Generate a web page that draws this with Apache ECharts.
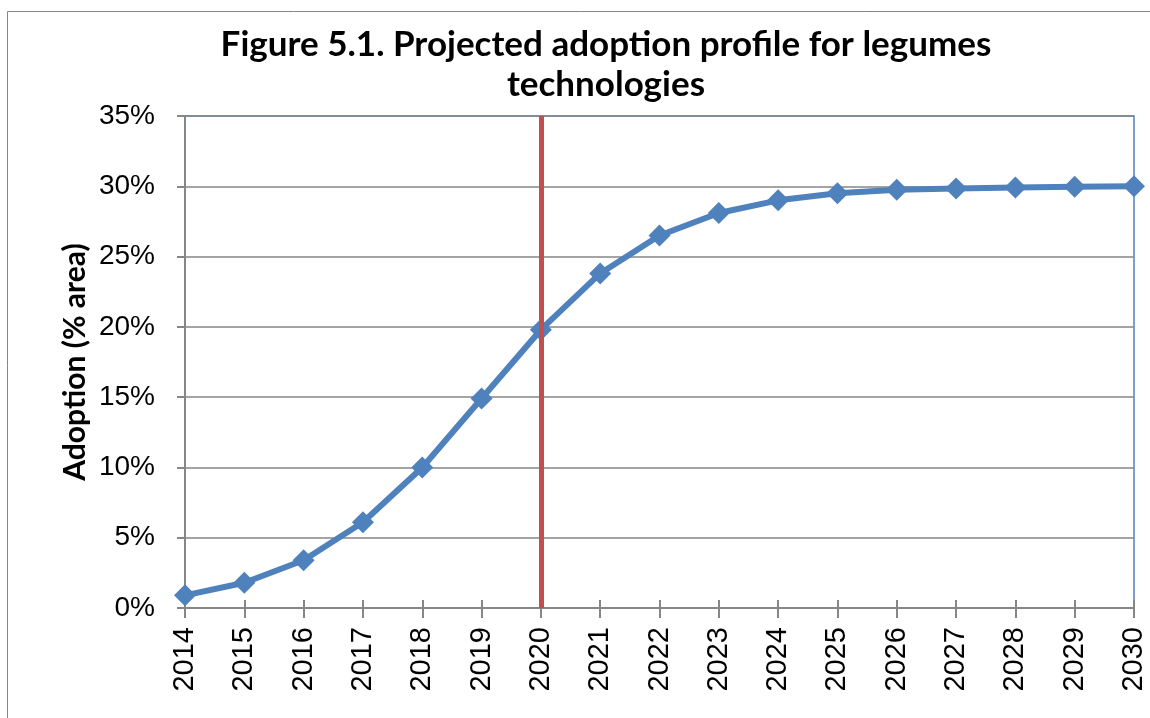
<!DOCTYPE html>
<html>
<head>
<meta charset="utf-8">
<script src="https://cdn.jsdelivr.net/npm/echarts@6/dist/echarts.min.js"></script>
<style>html,body{margin:0;padding:0;background:#fff}#c{width:1150px;height:718px}</style>
</head>
<body>
<div id="c"></div>
<script>
const years = ['2014','2015','2016','2017','2018','2019','2020','2021','2022','2023','2024','2025','2026','2027','2028','2029','2030'];
const adoption = [0.9, 1.8, 3.4, 6.1, 10.0, 14.9, 19.8, 23.8, 26.5, 28.1, 29.0, 29.5, 29.75, 29.85, 29.92, 29.97, 30.0];
const markerYear = '2020';
const yTicks = [0, 5, 10, 15, 20, 25, 30, 35];
const titleText = 'Figure 5.1. Projected adoption profile for legumes\ntechnologies';
const yName = 'Adoption (% area)';

const chart = echarts.init(document.getElementById('c'), null, {renderer: 'canvas'});
const grey = '#868686';
chart.setOption({
  animation: false,
  backgroundColor: '#fff',
  title: {
    text: titleText,
    left: 601, top: 20,
    textAlign: 'center',
    textStyle: {fontFamily: 'Lato', fontWeight: 'bold', fontSize: 35, lineHeight: 40, color: '#000'}
  },
  graphic: [{
    type: 'rect', silent: true, z: -1,
    shape: {x: 7.5, y: 11.5, width: 1300, height: 900},
    style: {fill: 'none', stroke: grey, lineWidth: 1}
  }, {
    type: 'text', silent: true,
    x: 75, y: 362, rotation: Math.PI / 2,
    style: {text: yName, fontFamily: 'Lato', fontWeight: 'bold', fontSize: 30, fill: '#000', align: 'center', verticalAlign: 'middle'}
  }],
  grid: {left: 185, right: 16, top: 116, bottom: 110, show: true, borderColor: '#4F81BD', borderWidth: 1.5, backgroundColor: 'transparent'},
  xAxis: [{
    type: 'category', data: years, boundaryGap: false,
    axisLine: {lineStyle: {color: grey, width: 2}},
    axisTick: {show: true, length: 10, alignWithLabel: true, lineStyle: {color: grey, width: 2}},
    axisLabel: {rotate: 90, fontFamily: 'Liberation Sans', fontSize: 29, color: '#000', margin: 19},
    splitLine: {show: false}
  }, {
    type: 'category', data: years, boundaryGap: false, position: 'bottom',
    axisLine: {show: false},
    axisTick: {show: true, inside: true, length: 8, lineStyle: {color: grey, width: 2}},
    axisLabel: {show: false}, splitLine: {show: false}
  }],
  yAxis: {
    type: 'value', min: 0, max: 35, interval: 5,
    axisLine: {show: true, lineStyle: {color: grey, width: 2}},
    axisTick: {show: true, length: 8, lineStyle: {color: grey, width: 2}},
    axisLabel: {formatter: v => yTicks.includes(v) ? v + '%' : '', fontFamily: 'Liberation Sans', fontSize: 28, color: '#000', margin: 30},
    splitLine: {show: true, lineStyle: {color: grey, width: 1.5}}
  },
  series: [{
    type: 'line', data: adoption, z: 3,
    symbol: 'diamond', symbolSize: 22,
    lineStyle: {color: '#4F81BD', width: 6},
    itemStyle: {color: '#4F81BD'}
  }, {
    type: 'line', data: [], z: 5,
    markLine: {
      silent: true, symbol: 'none', label: {show: false},
      lineStyle: {color: '#C0504D', width: 5, type: 'solid'},
      data: [{xAxis: markerYear}]
    }
  }]
});
</script>
</body>
</html>
